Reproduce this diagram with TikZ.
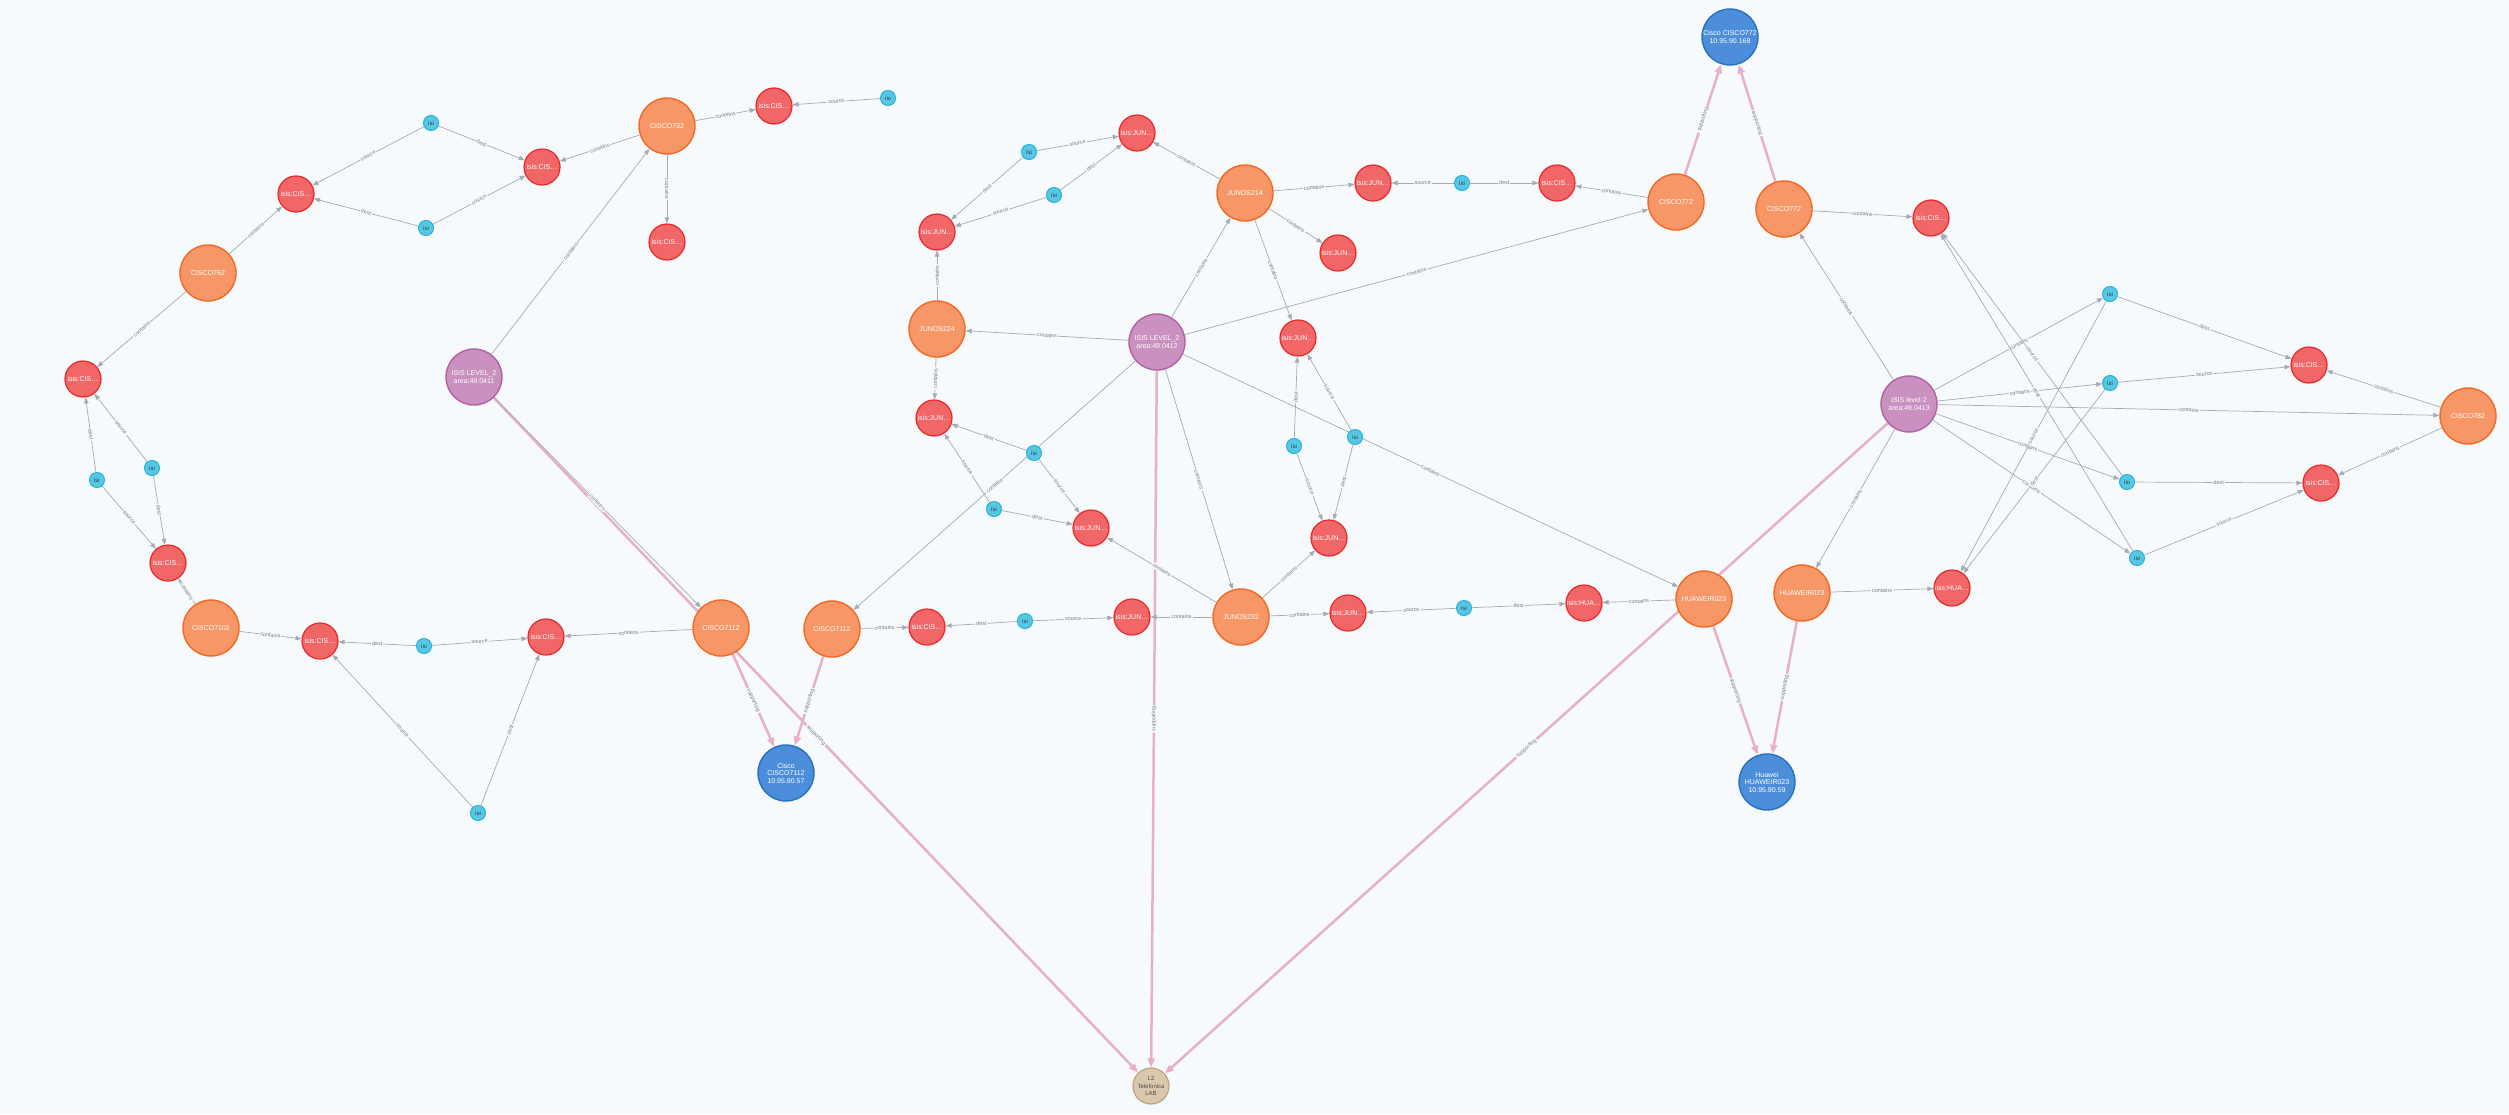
\documentclass[tikz,border=0pt]{standalone}
\usepackage{fontspec}
\setmainfont{Liberation Sans}
\usetikzlibrary{arrows.meta,backgrounds}
\definecolor{bgcol}{RGB}{246,250,253}
\definecolor{rtfill}{RGB}{247,151,103}
\definecolor{rtedge}{RGB}{243,105,36}
\definecolor{ifill}{RGB}{241,102,103}
\definecolor{iedge}{RGB}{235,39,40}
\definecolor{adjfill}{RGB}{87,199,227}
\definecolor{adjedge}{RGB}{35,179,215}
\definecolor{arfill}{RGB}{201,144,192}
\definecolor{aredge}{RGB}{178,97,165}
\definecolor{devfill}{RGB}{76,142,218}
\definecolor{devedge}{RGB}{40,112,194}
\definecolor{labfill}{RGB}{217,200,174}
\definecolor{labedge}{RGB}{192,163,120}
\definecolor{relgray}{RGB}{165,171,182}
\definecolor{suppink}{RGB}{232,175,202}
\definecolor{lblgray}{RGB}{120,124,132}

\begin{document}
\begin{tikzpicture}[
  x=1pt,y=-1pt,
  every node/.style={font=\fontsize{7}{7.5}\selectfont},
  router/.style={circle,draw=rtedge,fill=rtfill,line width=1.4pt,
                 minimum size=56pt,inner sep=0pt,align=center,text=white},
  area/.style={circle,draw=aredge,fill=arfill,line width=1.4pt,
               minimum size=56pt,inner sep=0pt,align=center,text=white},
  device/.style={circle,draw=devedge,fill=devfill,line width=1.4pt,
                 minimum size=56pt,inner sep=0pt,align=center,text=white},
  lab/.style={circle,draw=labedge,fill=labfill,line width=1.2pt,
              minimum size=36pt,inner sep=0pt,align=center,text={rgb,255:red,85;green,75;blue,65},
              font=\fontsize{6}{7.2}\selectfont},
  iface/.style={circle,draw=iedge,fill=ifill,line width=1.2pt,
                minimum size=36pt,inner sep=0pt,text=white},
  adj/.style={circle,draw=adjedge,fill=adjfill,line width=1pt,
              minimum size=15pt,inner sep=0pt,text={rgb,255:red,40;green,60;blue,80},
              font=\fontsize{6}{6}\selectfont},
  rel/.style={draw=relgray,line width=0.7pt,-{Triangle[length=6pt,width=4.5pt]}},
  sup/.style={draw=suppink,line width=2.5pt,-{Triangle[length=9pt,width=7pt]}},
  lbl/.style={midway,sloped,fill=bgcol,inner sep=1pt,text=lblgray,
              font=\fontsize{5.4}{5.4}\selectfont},
]
  % Areas
  \node[area] (areaA) at (474,377)  {ISIS LEVEL\_2\\area:49.0411};
  \node[area] (areaB) at (1157,342) {ISIS LEVEL\_2\\area:49.0412};
  \node[area] (areaC) at (1909,404) {ISIS level-2\\area:49.0413};

  % Routers
  \node[router] (c762)   at (208,273)  {CISCO762};
  \node[router] (c7102)  at (211,628)  {CISCO7102};
  \node[router] (c732)   at (667,126)  {CISCO732};
  \node[router] (c7112a) at (721,628)  {CISCO7112};
  \node[router] (c7112b) at (832,629)  {CISCO7112};
  \node[router] (j224)   at (937,329)  {JUNOS224};
  \node[router] (j214)   at (1245,193) {JUNOS214};
  \node[router] (j232)   at (1241,617) {JUNOS232};
  \node[router] (c772a)  at (1676,202) {CISCO772};
  \node[router] (c772b)  at (1784,209) {CISCO772};
  \node[router] (h023a)  at (1704,599) {HUAWEIR023};
  \node[router] (h023b)  at (1802,593) {HUAWEIR023};
  \node[router] (c782)   at (2468,416) {CISCO782};

  % Devices and lab
  \node[device] (d7112) at (786,773)  {Cisco\\CISCO7112\\10.95.90.57};
  \node[device] (d772)  at (1730,37)  {Cisco CISCO772\\10.95.90.168};
  \node[device] (dh023) at (1767,782) {Huawei\\HUAWEIR023\\10.95.90.59};
  \node[lab] (tlab) at (1151,1086) {L2\\Telefonica\\LAB};

  % Interfaces
  \node[iface] (r1)  at (296,194)  {isis:CIS…};
  \node[iface] (r2)  at (83,379)   {isis:CIS…};
  \node[iface] (r3)  at (168,563)  {isis:CIS…};
  \node[iface] (r4)  at (320,641)  {isis:CIS…};
  \node[iface] (r5)  at (546,637)  {isis:CIS…};
  \node[iface] (r6)  at (542,167)  {isis:CIS…};
  \node[iface] (r7)  at (774,106)  {isis:CIS…};
  \node[iface] (r8)  at (667,242)  {isis:CIS…};
  \node[iface] (r9)  at (927,627)  {isis:CIS…};
  \node[iface] (r10) at (1132,617) {isis:JUN…};
  \node[iface] (r11) at (1137,133) {isis:JUN…};
  \node[iface] (r12) at (937,232)  {isis:JUN…};
  \node[iface] (r13) at (1373,183) {isis:JUN…};
  \node[iface] (r14) at (1338,253) {isis:JUN…};
  \node[iface] (r15) at (1298,338) {isis:JUN…};
  \node[iface] (r16) at (934,418)  {isis:JUN…};
  \node[iface] (r17) at (1091,528) {isis:JUN…};
  \node[iface] (r18) at (1329,538) {isis:JUN…};
  \node[iface] (r19) at (1348,613) {isis:JUN…};
  \node[iface] (r20) at (1557,183) {isis:CIS…};
  \node[iface] (r21) at (1584,603) {isis:HUA…};
  \node[iface] (r22) at (1931,218) {isis:CIS…};
  \node[iface] (r23) at (1952,588) {isis:HUA…};
  \node[iface] (r24) at (2309,365) {isis:CIS…};
  \node[iface] (r25) at (2321,483) {isis:CIS…};

  % Adjacencies
  \node[adj] (i1)  at (431,123)  {isi};
  \node[adj] (i2)  at (426,228)  {isi};
  \node[adj] (i3)  at (97,480)   {isi};
  \node[adj] (i4)  at (152,468)  {isi};
  \node[adj] (i5)  at (424,646)  {isi};
  \node[adj] (i6)  at (478,813)  {isi};
  \node[adj] (i7)  at (888,98)   {isi};
  \node[adj] (i8)  at (1025,621) {isi};
  \node[adj] (i9)  at (1029,152) {isi};
  \node[adj] (i10) at (1054,195) {isi};
  \node[adj] (i11) at (1034,453) {isi};
  \node[adj] (i12) at (994,509)  {isi};
  \node[adj] (i13) at (1294,446) {isi};
  \node[adj] (i14) at (1355,437) {isi};
  \node[adj] (i15) at (1462,183) {isi};
  \node[adj] (i16) at (1464,608) {isi};
  \node[adj] (i17) at (2110,294) {isi};
  \node[adj] (i18) at (2110,383) {isi};
  \node[adj] (i19) at (2127,482) {isi};
  \node[adj] (i20) at (2137,558) {isi};

  \begin{scope}[on background layer]
  \fill[bgcol] (0,0) rectangle (2509,1114);

  % supporting
  \draw[sup] (areaA) -- node[lbl] {supporting} (tlab);
  \draw[sup] (areaB) -- node[lbl] {supporting} (tlab);
  \draw[sup] (areaC) -- node[lbl] {supporting} (tlab);
  \draw[sup] (c7112a) -- node[lbl] {supporting} (d7112);
  \draw[sup] (c7112b) -- node[lbl] {supporting} (d7112);
  \draw[sup] (c772a) -- node[lbl] {supporting} (d772);
  \draw[sup] (c772b) -- node[lbl] {supporting} (d772);
  \draw[sup] (h023a) -- node[lbl] {supporting} (dh023);
  \draw[sup] (h023b) -- node[lbl] {supporting} (dh023);

  % contains
  \draw[rel] (c762) -- node[lbl] {contains} (r1);
  \draw[rel] (c762) -- node[lbl] {contains} (r2);
  \draw[rel] (c7102) -- node[lbl] {contains} (r3);
  \draw[rel] (c7102) -- node[lbl] {contains} (r4);
  \draw[rel] (c7112a) -- node[lbl] {contains} (r5);
  \draw[rel] (c732) -- node[lbl] {contains} (r6);
  \draw[rel] (c732) -- node[lbl] {contains} (r7);
  \draw[rel] (c732) -- node[lbl] {contains} (r8);
  \draw[rel] (areaA) -- node[lbl] {contains} (c732);
  \draw[rel] (areaA) -- node[lbl] {contains} (c7112a);
  \draw[rel] (c7112b) -- node[lbl] {contains} (r9);
  \draw[rel] (j224) -- node[lbl] {contains} (r12);
  \draw[rel] (j224) -- node[lbl] {contains} (r16);
  \draw[rel] (j214) -- node[lbl] {contains} (r11);
  \draw[rel] (j214) -- node[lbl] {contains} (r13);
  \draw[rel] (j214) -- node[lbl] {contains} (r14);
  \draw[rel] (j214) -- node[lbl] {contains} (r15);
  \draw[rel] (j232) -- node[lbl] {contains} (r10);
  \draw[rel] (j232) -- node[lbl] {contains} (r17);
  \draw[rel] (j232) -- node[lbl] {contains} (r18);
  \draw[rel] (j232) -- node[lbl] {contains} (r19);
  \draw[rel] (areaB) -- node[lbl] {contains} (j214);
  \draw[rel] (areaB) -- node[lbl] {contains} (j224);
  \draw[rel] (areaB) -- node[lbl] {contains} (c772a);
  \draw[rel] (areaB) -- node[lbl] {contains} (c7112b);
  \draw[rel] (areaB) -- node[lbl] {contains} (j232);
  \draw[rel] (areaB) -- node[lbl] {contains} (h023a);
  \draw[rel] (c772a) -- node[lbl] {contains} (r20);
  \draw[rel] (h023a) -- node[lbl] {contains} (r21);
  \draw[rel] (c772b) -- node[lbl] {contains} (r22);
  \draw[rel] (h023b) -- node[lbl] {contains} (r23);
  \draw[rel] (c782) -- node[lbl] {contains} (r24);
  \draw[rel] (c782) -- node[lbl] {contains} (r25);
  \draw[rel] (areaC) -- node[lbl] {contains} (c772b);
  \draw[rel] (areaC) -- node[lbl] {contains} (i17);
  \draw[rel] (areaC) -- node[lbl] {contains} (i18);
  \draw[rel] (areaC) -- node[lbl] {contains} (c782);
  \draw[rel] (areaC) -- node[lbl] {contains} (i19);
  \draw[rel] (areaC) -- node[lbl] {contains} (i20);
  \draw[rel] (areaC) -- node[lbl] {contains} (h023b);

  % source / dest
  \draw[rel] (i1) -- node[lbl] {source} (r1);
  \draw[rel] (i1) -- node[lbl] {dest} (r6);
  \draw[rel] (i2) -- node[lbl] {dest} (r1);
  \draw[rel] (i2) -- node[lbl] {source} (r6);
  \draw[rel] (i3) -- node[lbl] {dest} (r2);
  \draw[rel] (i3) -- node[lbl] {source} (r3);
  \draw[rel] (i4) -- node[lbl] {source} (r2);
  \draw[rel] (i4) -- node[lbl] {dest} (r3);
  \draw[rel] (i5) -- node[lbl] {dest} (r4);
  \draw[rel] (i5) -- node[lbl] {source} (r5);
  \draw[rel] (i6) -- node[lbl] {source} (r4);
  \draw[rel] (i6) -- node[lbl] {dest} (r5);
  \draw[rel] (i7) -- node[lbl] {source} (r7);
  \draw[rel] (i8) -- node[lbl] {dest} (r9);
  \draw[rel] (i8) -- node[lbl] {source} (r10);
  \draw[rel] (i9) -- node[lbl] {source} (r11);
  \draw[rel] (i9) -- node[lbl] {dest} (r12);
  \draw[rel] (i10) -- node[lbl] {dest} (r11);
  \draw[rel] (i10) -- node[lbl] {source} (r12);
  \draw[rel] (i11) -- node[lbl] {dest} (r16);
  \draw[rel] (i11) -- node[lbl] {source} (r17);
  \draw[rel] (i12) -- node[lbl] {source} (r16);
  \draw[rel] (i12) -- node[lbl] {dest} (r17);
  \draw[rel] (i13) -- node[lbl] {dest} (r15);
  \draw[rel] (i13) -- node[lbl] {source} (r18);
  \draw[rel] (i14) -- node[lbl] {source} (r15);
  \draw[rel] (i14) -- node[lbl] {dest} (r18);
  \draw[rel] (i15) -- node[lbl] {source} (r13);
  \draw[rel] (i15) -- node[lbl] {dest} (r20);
  \draw[rel] (i16) -- node[lbl] {source} (r19);
  \draw[rel] (i16) -- node[lbl] {dest} (r21);
  \draw[rel] (i17) -- node[lbl] {dest} (r24);
  \draw[rel] (i17) -- node[lbl] {source} (r23);
  \draw[rel] (i18) -- node[lbl] {source} (r24);
  \draw[rel] (i18) -- node[lbl] {dest} (r23);
  \draw[rel] (i19) -- node[lbl] {dest} (r25);
  \draw[rel] (i19) -- node[lbl] {source} (r22);
  \draw[rel] (i20) -- node[lbl] {source} (r25);
  \draw[rel] (i20) -- node[lbl] {dest} (r22);
  \end{scope}
\end{tikzpicture}
\end{document}
